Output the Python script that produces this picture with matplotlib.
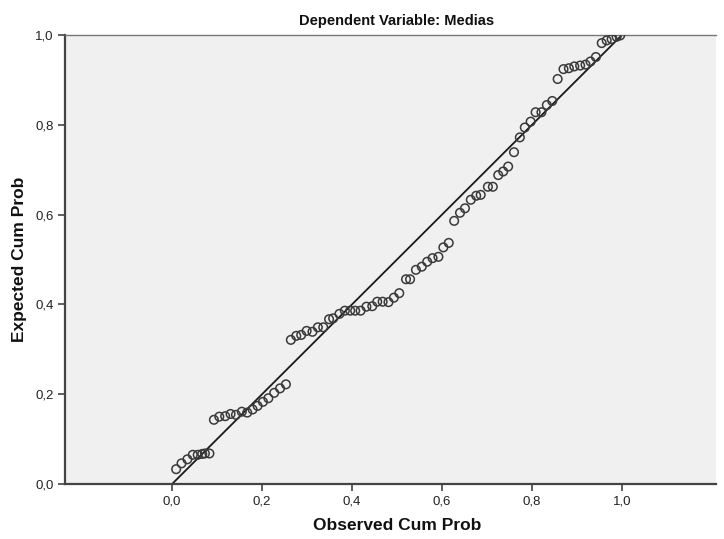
import matplotlib
matplotlib.use("Agg")
import matplotlib.pyplot as plt

observed = [0.009, 0.021, 0.034, 0.046, 0.057, 0.067, 0.073, 0.083,
            0.093, 0.105, 0.118, 0.130, 0.142, 0.155, 0.167, 0.179, 0.190, 0.202, 0.214, 0.227, 0.240, 0.253,
            0.264, 0.276, 0.287, 0.299, 0.312, 0.324, 0.336, 0.349, 0.358, 0.372, 0.384, 0.396, 0.407, 0.419,
            0.432, 0.445, 0.456, 0.468, 0.481, 0.493, 0.505,
            0.520, 0.529, 0.542, 0.555, 0.567, 0.579, 0.592, 0.603, 0.615, 0.627, 0.640, 0.651, 0.664, 0.676,
            0.686, 0.702, 0.713, 0.725, 0.736, 0.747, 0.760, 0.773, 0.784, 0.797, 0.808, 0.821, 0.833, 0.845,
            0.857, 0.870, 0.882, 0.894, 0.907, 0.919, 0.930, 0.942, 0.955, 0.966, 0.977, 0.988, 0.996]
expected = [0.033, 0.046, 0.055, 0.065, 0.065, 0.067, 0.068, 0.068,
            0.143, 0.150, 0.151, 0.156, 0.154, 0.161, 0.159, 0.166, 0.174, 0.183, 0.191, 0.203, 0.213, 0.222,
            0.321, 0.330, 0.332, 0.341, 0.339, 0.349, 0.349, 0.367, 0.369, 0.379, 0.386, 0.386, 0.386, 0.386,
            0.395, 0.396, 0.406, 0.406, 0.405, 0.415, 0.425,
            0.456, 0.456, 0.477, 0.484, 0.495, 0.503, 0.506, 0.527, 0.537, 0.586, 0.604, 0.614, 0.633, 0.642,
            0.644, 0.662, 0.662, 0.688, 0.696, 0.707, 0.739, 0.772, 0.794, 0.807, 0.828, 0.828, 0.844, 0.853,
            0.902, 0.924, 0.926, 0.930, 0.932, 0.934, 0.941, 0.951, 0.982, 0.988, 0.991, 0.996, 0.999]

ref_line = [0.0, 1.0]
ticks = [0.0, 0.2, 0.4, 0.6, 0.8, 1.0]
tick_labels = ["0,0", "0,2", "0,4", "0,6", "0,8", "1,0"]

title = "Dependent Variable: Medias"
xlabel = "Observed Cum Prob"
ylabel = "Expected Cum Prob"

plt.rcParams['font.family'] = ['Liberation Sans', 'DejaVu Sans']

W, H = 724, 539
fig = plt.figure(figsize=(W / 100, H / 100), dpi=100)
left, right, top, bottom = 65, 716, 35, 484
ax = fig.add_axes([left / W, 1 - bottom / H, (right - left) / W, (bottom - top) / H])
ax.set_facecolor("#f0f0f0")

ax.plot(ref_line, ref_line, color="#1a1a1a", lw=1.3, zorder=2)
ax.scatter(observed, expected, s=38, facecolors="none", edgecolors="#3a3a3a",
           linewidths=1.1, zorder=3)

ax.set_xlim(-0.238, 1.209)
ax.set_ylim(0.0, 1.0)
ax.set_xticks(ticks)
ax.set_xticklabels(tick_labels)
ax.set_yticks(ticks)
ax.set_yticklabels(tick_labels)
ax.tick_params(direction="out", length=5, width=1.2, color="#444444",
               labelsize=9.5, labelcolor="#222222", pad=3)

for s in ["left", "bottom"]:
    ax.spines[s].set_color("#444444")
    ax.spines[s].set_linewidth(1.6)
ax.spines["top"].set_color("#777777")
ax.spines["top"].set_linewidth(1.0)
ax.spines["right"].set_visible(False)

ax.set_title(title, fontsize=10.5, fontweight="bold", color="#111111", pad=7, x=0.51)
ax.set_xlabel(xlabel, fontsize=12.5, fontweight="bold", color="#111111", labelpad=8)
ax.xaxis.label.set_x(0.51)
ax.set_ylabel(ylabel, fontsize=12.5, fontweight="bold", color="#111111", labelpad=6)

fig.savefig("out.png", dpi=100, facecolor="white")
